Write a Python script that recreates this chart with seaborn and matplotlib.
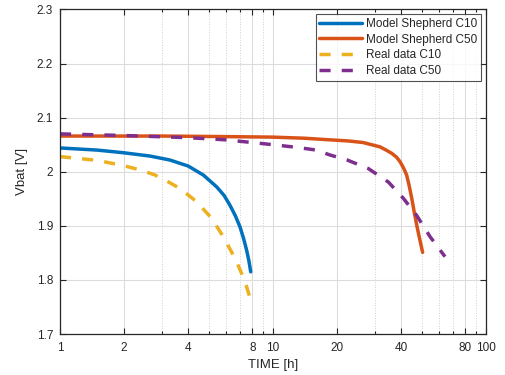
import numpy as np
import pandas as pd
import matplotlib
matplotlib.use("Agg")
import matplotlib.pyplot as plt
from matplotlib.ticker import FixedLocator, FuncFormatter, NullFormatter
import seaborn as sns

sns.set_theme(style="ticks")
plt.rcParams['font.family'] = ['Liberation Sans', 'DejaVu Sans']

# Model Shepherd C10
model_c10_t = [1, 1.5, 2, 2.646, 3.28, 4.0, 4.71, 5.44, 5.9, 6.28, 6.65, 7.0,
               7.27, 7.52, 7.7, 7.86]
model_c10_v = [2.044, 2.040, 2.035, 2.029, 2.0217, 2.0105, 1.9939, 1.972, 1.956,
               1.938, 1.919, 1.898, 1.877, 1.855, 1.836, 1.815]

# Model Shepherd C50
model_c50_t = [1, 3, 6, 10, 14, 18.5, 22.5, 26.5, 29, 31.8, 34, 36.1, 38, 39.5,
               41, 42.4, 43.7, 44.8, 46, 47.3, 48.8, 50.4]
model_c50_v = [2.066, 2.066, 2.065, 2.064, 2.062, 2.059, 2.057, 2.054, 2.050,
               2.046, 2.040, 2.034, 2.027, 2.0185, 2.007, 1.994, 1.972, 1.951,
               1.926, 1.901, 1.876, 1.851]

# Real data C10
real_c10_t = [1, 1.5, 2, 2.4, 2.79, 3.2, 3.66, 4.0, 4.38, 5.15, 5.84, 6.63, 7.0,
              7.39, 7.74]
real_c10_v = [2.028, 2.021, 2.011, 2.003, 1.994, 1.982, 1.969, 1.957, 1.9445,
              1.914, 1.880, 1.840, 1.819, 1.797, 1.771]

# Real data C50
real_c50_t = [1, 2, 4, 6, 8, 10, 13, 16, 18.5, 22.2, 28, 34.8, 40.9, 47.3, 54.6, 64.2]
real_c50_v = [2.070, 2.067, 2.063, 2.059, 2.054, 2.050, 2.045, 2.040, 2.031,
              2.022, 2.006, 1.981, 1.951, 1.919, 1.880, 1.843]

x_ticks = [1, 2, 4, 8, 10, 20, 40, 80, 100]
x_minor = [3, 5, 6, 7, 9, 30, 50, 60, 70, 90]
y_ticks = [1.7, 1.8, 1.9, 2.0, 2.1, 2.2, 2.3]

series = [
    ("Model Shepherd C10", model_c10_t, model_c10_v),
    ("Model Shepherd C50", model_c50_t, model_c50_v),
    ("Real data C10", real_c10_t, real_c10_v),
    ("Real data C50", real_c50_t, real_c50_v),
]
df = pd.concat([pd.DataFrame({"t": t, "v": v, "name": n}) for n, t, v in series],
               ignore_index=True)

colors = {
    "Model Shepherd C10": "#0072BD",
    "Model Shepherd C50": "#D95319",
    "Real data C10": "#EDB120",
    "Real data C50": "#7E2F8E",
}
dashes = {
    "Model Shepherd C10": "",
    "Model Shepherd C50": "",
    "Real data C10": (3.2, 3.2),
    "Real data C50": (3.2, 3.2),
}

fig = plt.figure(figsize=(5.05, 3.75), dpi=100)
ax = fig.add_axes([0.1188, 0.1093, 0.8436, 0.8654])

sns.lineplot(data=df, x="t", y="v", hue="name", style="name",
             palette=colors, dashes=dashes, linewidth=2.5, ax=ax,
             sort=False, estimator=None)
for ln in ax.get_lines():
    ln.set_solid_joinstyle("round")
    ln.set_dash_joinstyle("round")

ax.set_xscale("log")
ax.set_xlim(1, 100)
ax.set_ylim(1.7, 2.3)
ax.xaxis.set_major_locator(FixedLocator(x_ticks))
ax.xaxis.set_minor_locator(FixedLocator(x_minor))
ax.xaxis.set_major_formatter(FuncFormatter(lambda v, p: f"{v:g}"))
ax.xaxis.set_minor_formatter(NullFormatter())
ax.set_yticks(y_ticks)
ax.yaxis.set_major_formatter(FuncFormatter(lambda v, p: f"{v:g}"))

ax.grid(True, which="major", color="#dcdcdc", linewidth=0.8, linestyle="-")
ax.grid(True, which="minor", axis="x", color="#d0d0d0", linewidth=0.7, linestyle=":")
ax.set_axisbelow(True)

for s in ax.spines.values():
    s.set_color("#262626")
    s.set_linewidth(0.9)
ax.tick_params(which="both", direction="in", top=True, right=True,
               colors="#262626", labelsize=8.5, width=0.8)
ax.tick_params(which="major", length=4)
ax.tick_params(which="minor", length=2.5)
ax.tick_params(axis="x", which="major", pad=6)
ax.tick_params(axis="y", which="major", pad=5)

ax.set_xlabel("TIME [h]", fontsize=9.5, color="#262626", labelpad=3)
ax.set_ylabel("Vbat [V]", fontsize=9.5, color="#262626", labelpad=6)

leg = ax.legend(loc="upper right", fontsize=8.5, frameon=True, fancybox=False,
                edgecolor="#262626", handlelength=3.6, borderpad=0.3,
                labelspacing=0.32, handletextpad=0.4, borderaxespad=0.4)
leg.get_frame().set_linewidth(0.8)

fig.savefig("out.png", dpi=100)
